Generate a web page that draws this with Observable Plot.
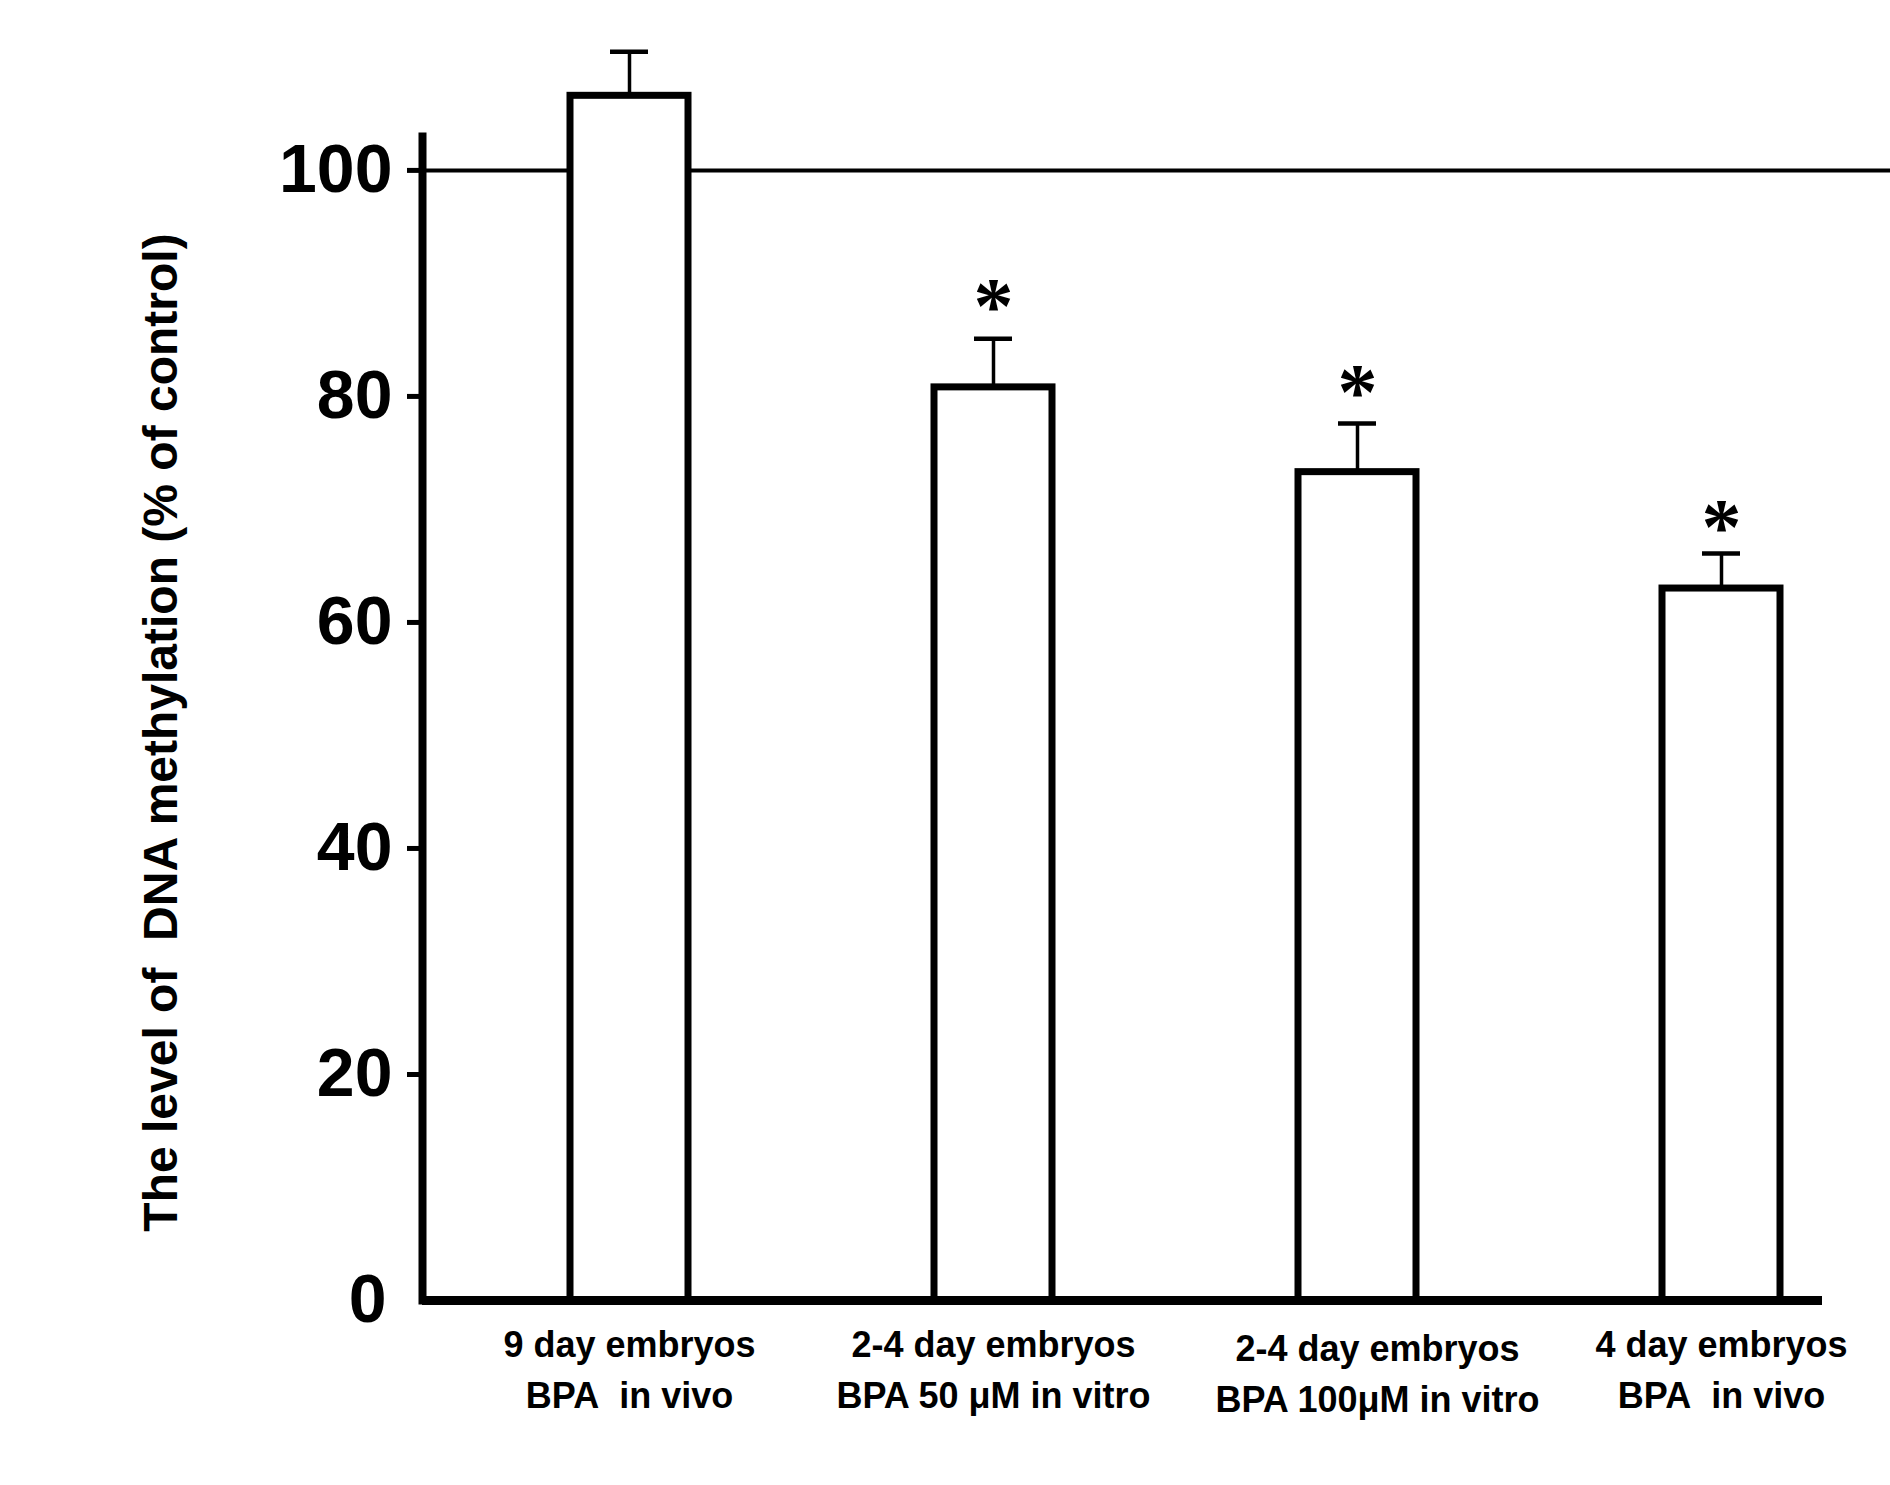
<!DOCTYPE html>
<html>
<head>
<meta charset="utf-8">
<script src="https://cdn.jsdelivr.net/npm/d3@7"></script>
<script src="https://cdn.jsdelivr.net/npm/@observablehq/plot@0.6"></script>
<style>
  html, body { margin: 0; padding: 0; background: #fff; }
  #chart svg { display: block; overflow: visible; }
</style>
</head>
<body>
<div id="chart"></div>
<script>
// ---- data ----
const categories = ["9d_vivo", "24d_50", "24d_100", "4d_vivo"];
const tickLabels = [
  "9 day embryos\nBPA\u00a0\u00a0in vivo",
  "2-4 day embryos\nBPA 50 \u03bcM in vitro",
  "2-4 day embryos\nBPA 100\u03bcM in vitro",
  "4 day embryos\nBPA\u00a0\u00a0in vivo"
];
const means = [106.6, 80.8, 73.3, 63.0];
const errTops = [110.5, 85.1, 77.6, 66.1];
const starLabels = ["", "*", "*", "*"];
const starY = [null, 88.9, 81.3, 69.4];
const yTicks = [20, 40, 60, 80, 100];
const yLabel = "The level of\u00a0\u00a0DNA methylation (% of control)";
const refLine = [100];

const rows = categories.map((c, i) => ({cat: c, mean: means[i], err: errTops[i], star: starLabels[i], sy: starY[i]}));
const starRows = rows.filter(d => d.star);
const labelOf = Object.fromEntries(categories.map((c, i) => [c, tickLabels[i]]));

const font = "'Liberation Sans', Arial, sans-serif";
const xAxisStyle = {anchor: "bottom", tickSize: 0, tickPadding: 20, fontSize: 36, fontWeight: "bold", lineHeight: 1.42, tickFormat: d => labelOf[d], label: null};

const chart = Plot.plot({
  width: 1890,
  height: 1485,
  marginLeft: 422,
  marginRight: 68,
  marginTop: 136,
  marginBottom: 185,
  style: {background: "#fff", fontFamily: font, color: "#000", overflow: "visible"},
  x: {domain: categories, paddingInner: 0.676, paddingOuter: 0.261, align: 0.778, axis: null},
  y: {domain: [0, 103], axis: null},
  marks: [
    Plot.ruleY(refLine, {stroke: "#000", strokeWidth: 4, insetRight: -68}),
    Plot.ruleX(rows, {x: "cat", y1: "mean", y2: "err", stroke: "#000", strokeWidth: 3.5}),
    Plot.tickY(rows, {x: "cat", y: "err", stroke: "#000", strokeWidth: 4.5, insetLeft: 40, insetRight: 40}),
    Plot.barY(rows, {x: "cat", y: "mean", fill: "#fff", stroke: "#000", strokeWidth: 7}),
    Plot.text(starRows, {x: "cat", y: "sy", text: "star", fontSize: 80, fontWeight: "bold", fontFamily: "'Liberation Serif', 'DejaVu Serif', serif", lineAnchor: "middle", dy: 12, fill: "#000"}),
    Plot.ruleY([0], {stroke: "#000", strokeWidth: 9}),
    Plot.frame({anchor: "left", stroke: "#000", strokeWidth: 8}),
    Plot.axisY(yTicks, {anchor: "left", tickSize: 15, tickPadding: 15, strokeWidth: 5, fontSize: 68, fontWeight: "bold", label: null}),
    Plot.axisY([0], {anchor: "left", tickSize: 0, tickPadding: 36, fontSize: 68, fontWeight: "bold", label: null}),
    Plot.axisX([categories[0], categories[1], categories[3]], xAxisStyle),
    Plot.axisX([categories[2]], {...xAxisStyle, dx: 20, dy: 4}),
    Plot.text([yLabel], {frameAnchor: "left", text: d => d, rotate: -90, textAnchor: "middle", lineAnchor: "top", dx: -280, dy: 14, fontSize: 48, fontWeight: "bold", fill: "#000"})
  ]
});
document.getElementById("chart").appendChild(chart);
</script>
</body>
</html>
